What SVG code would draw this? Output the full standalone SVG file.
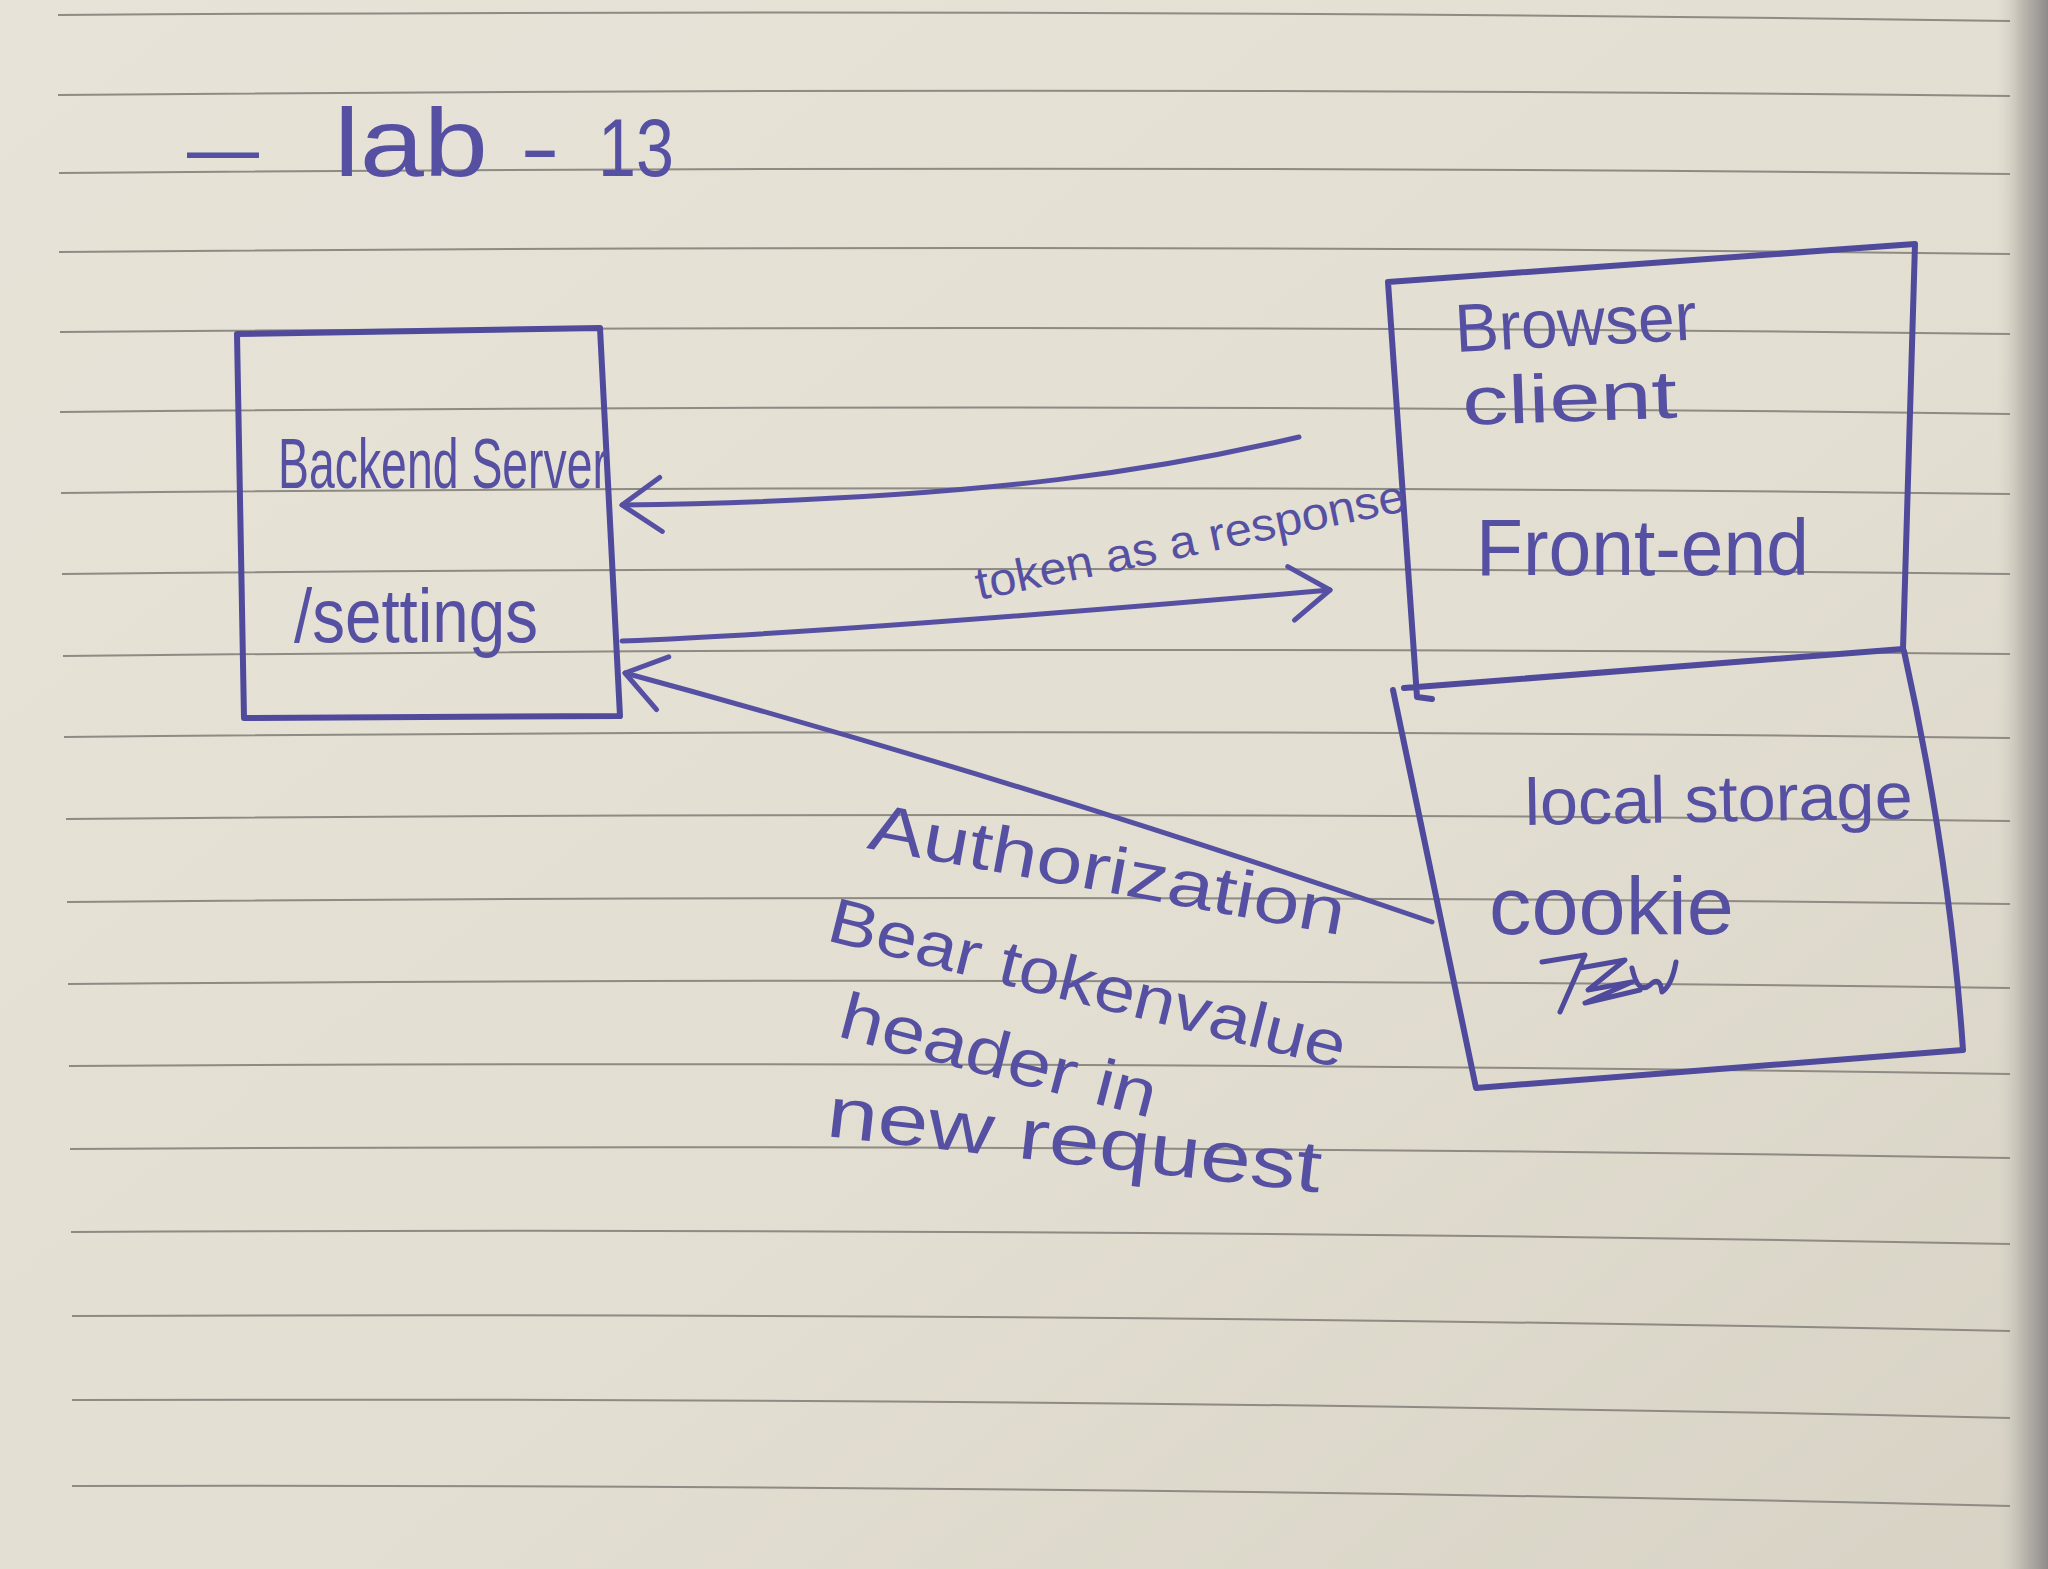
<svg xmlns="http://www.w3.org/2000/svg" width="2048" height="1569" viewBox="0 0 2048 1569">
  <defs>
    <linearGradient id="paper" x1="0" y1="0" x2="1" y2="1">
      <stop offset="0" stop-color="#e7e3d8"/>
      <stop offset="0.6" stop-color="#e2ded1"/>
      <stop offset="1" stop-color="#d7d2c4"/>
    </linearGradient>
    <linearGradient id="edge" x1="0" y1="0" x2="1" y2="0">
      <stop offset="0" stop-color="#d8d4c9" stop-opacity="0"/>
      <stop offset="0.5" stop-color="#bdb9b0"/>
      <stop offset="1" stop-color="#8f8b8a"/>
    </linearGradient>
    <marker id="chev" viewBox="-50 -35 56 70" refX="0" refY="0" markerWidth="56" markerHeight="70" markerUnits="userSpaceOnUse" orient="auto">
      <path d="M-40,-27 L0,0 L-38,27" fill="none" stroke="#5650a3" stroke-width="5" stroke-linecap="round" stroke-linejoin="round"/>
    </marker>
    <style>
      .rule { fill: none; stroke: #8e8a84; stroke-width: 2; }
      .box { fill: none; stroke: #4f4a9c; stroke-width: 6; stroke-linecap: round; stroke-linejoin: round; }
      .conn { fill: none; stroke: #5650a3; stroke-width: 5; stroke-linecap: round; }
      .ink { fill: #5650a3; font-family: "Liberation Sans", "DejaVu Sans", sans-serif; }
    </style>
  </defs>

  <rect x="0" y="0" width="2048" height="1569" fill="url(#paper)"/>
  <rect x="1996" y="0" width="52" height="1569" fill="url(#edge)"/>

  <g id="ruled-lines">
    <path class="rule" d="M58,15 Q1100,8 2010,21"/>
    <path class="rule" d="M58,95 Q1100,86 2010,96"/>
    <path class="rule" d="M59,173 Q1100,164 2010,174"/>
    <path class="rule" d="M59,252 Q1100,243 2010,254"/>
    <path class="rule" d="M60,332 Q1100,323 2010,334"/>
    <path class="rule" d="M60,412 Q1100,402 2010,414"/>
    <path class="rule" d="M61,493 Q1100,483 2010,494"/>
    <path class="rule" d="M62,574 Q1100,564 2010,574"/>
    <path class="rule" d="M63,656 Q1100,645 2010,654"/>
    <path class="rule" d="M64,737 Q1100,727 2010,738"/>
    <path class="rule" d="M66,819 Q1100,810 2010,821"/>
    <path class="rule" d="M67,902 Q1100,893 2010,904"/>
    <path class="rule" d="M68,984 Q1100,976 2010,988"/>
    <path class="rule" d="M69,1066 Q1100,1060 2010,1074"/>
    <path class="rule" d="M70,1149 Q1100,1143 2010,1158"/>
    <path class="rule" d="M71,1232 Q1100,1227 2010,1244"/>
    <path class="rule" d="M72,1316 Q1100,1312 2010,1331"/>
    <path class="rule" d="M72,1400 Q1100,1397 2010,1418"/>
    <path class="rule" d="M72,1486 Q1100,1484 2010,1506"/>
  </g>

  <g id="title">
    <text class="ink" x="187" y="176" font-size="82" textLength="72" lengthAdjust="spacingAndGlyphs">—</text>
    <text class="ink" x="334" y="176" font-size="96" textLength="154" lengthAdjust="spacingAndGlyphs">lab</text>
    <text class="ink" x="520" y="176" font-size="82" textLength="40" lengthAdjust="spacingAndGlyphs">-</text>
    <text class="ink" x="598" y="176" font-size="82" textLength="76" lengthAdjust="spacingAndGlyphs">13</text>
  </g>

  <g id="node-backend">
    <path class="box" d="M237,334 L600,328 L620,716 L244,718 Z"/>
    <text class="ink" x="278" y="488" font-size="70" textLength="330" lengthAdjust="spacingAndGlyphs">Backend Server</text>
    <text class="ink" x="294" y="642" font-size="76" textLength="244" lengthAdjust="spacingAndGlyphs">/settings</text>
  </g>

  <g id="node-browser">
    <path class="box" d="M1404,688 L1903,649 L1915,244 L1388,282 L1417,697 L1432,699"/>
    <text class="ink" x="1456" y="352" font-size="68" textLength="242" lengthAdjust="spacingAndGlyphs" transform="rotate(-3 1456 352)">Browser</text>
    <text class="ink" x="1463" y="425" font-size="68" textLength="215" lengthAdjust="spacingAndGlyphs" transform="rotate(-2 1463 425)">client</text>
    <text class="ink" x="1476" y="575" font-size="80" textLength="333" lengthAdjust="spacingAndGlyphs">Front-end</text>
  </g>

  <g id="node-storage">
    <path class="box" d="M1393,690 L1476,1088 L1963,1050 Q1950,860 1904,651"/>
    <text class="ink" x="1525" y="825" font-size="66" textLength="388" lengthAdjust="spacingAndGlyphs" transform="rotate(-1 1525 825)">local storage</text>
    <text class="ink" x="1489" y="934" font-size="82" textLength="245" lengthAdjust="spacingAndGlyphs">cookie</text>
    <path fill="none" stroke="#4f4a9c" stroke-width="5" stroke-linecap="round" stroke-linejoin="round" d="M1542,962 L1585,955 L1560,1012 M1580,968 L1625,960 L1588,990 L1632,982 L1585,1003 L1640,990 M1632,968 Q1638,995 1650,985 Q1660,975 1662,992 Q1672,985 1676,962"/>
  </g>

  <g id="connectors">
    <path class="conn" d="M1299,437 C1180,465 1000,500 622,505" marker-end="url(#chev)"/>
    <path class="conn" d="M622,641 C800,634 1100,610 1330,590" marker-end="url(#chev)"/>
    <path class="conn" d="M1432,922 Q1020,780 625,673" marker-end="url(#chev)"/>
  </g>

  <g id="labels">
    <text class="ink" x="979" y="600" font-size="46" textLength="438" lengthAdjust="spacingAndGlyphs" transform="rotate(-11.8 979 600)">token as a response</text>
    <text class="ink" x="866" y="848" font-size="66" textLength="483" lengthAdjust="spacingAndGlyphs" transform="rotate(10.4 866 848)">Authorization</text>
    <text class="ink" x="825" y="940" font-size="64" textLength="531" lengthAdjust="spacingAndGlyphs" transform="rotate(14 825 940)">Bear tokenvalue</text>
    <text class="ink" x="836" y="1036" font-size="66" textLength="325" lengthAdjust="spacingAndGlyphs" transform="rotate(14.6 836 1036)">header in</text>
    <text class="ink" x="825" y="1136" font-size="72" textLength="497" lengthAdjust="spacingAndGlyphs" transform="rotate(6.5 825 1136)">new request</text>
  </g>
</svg>
